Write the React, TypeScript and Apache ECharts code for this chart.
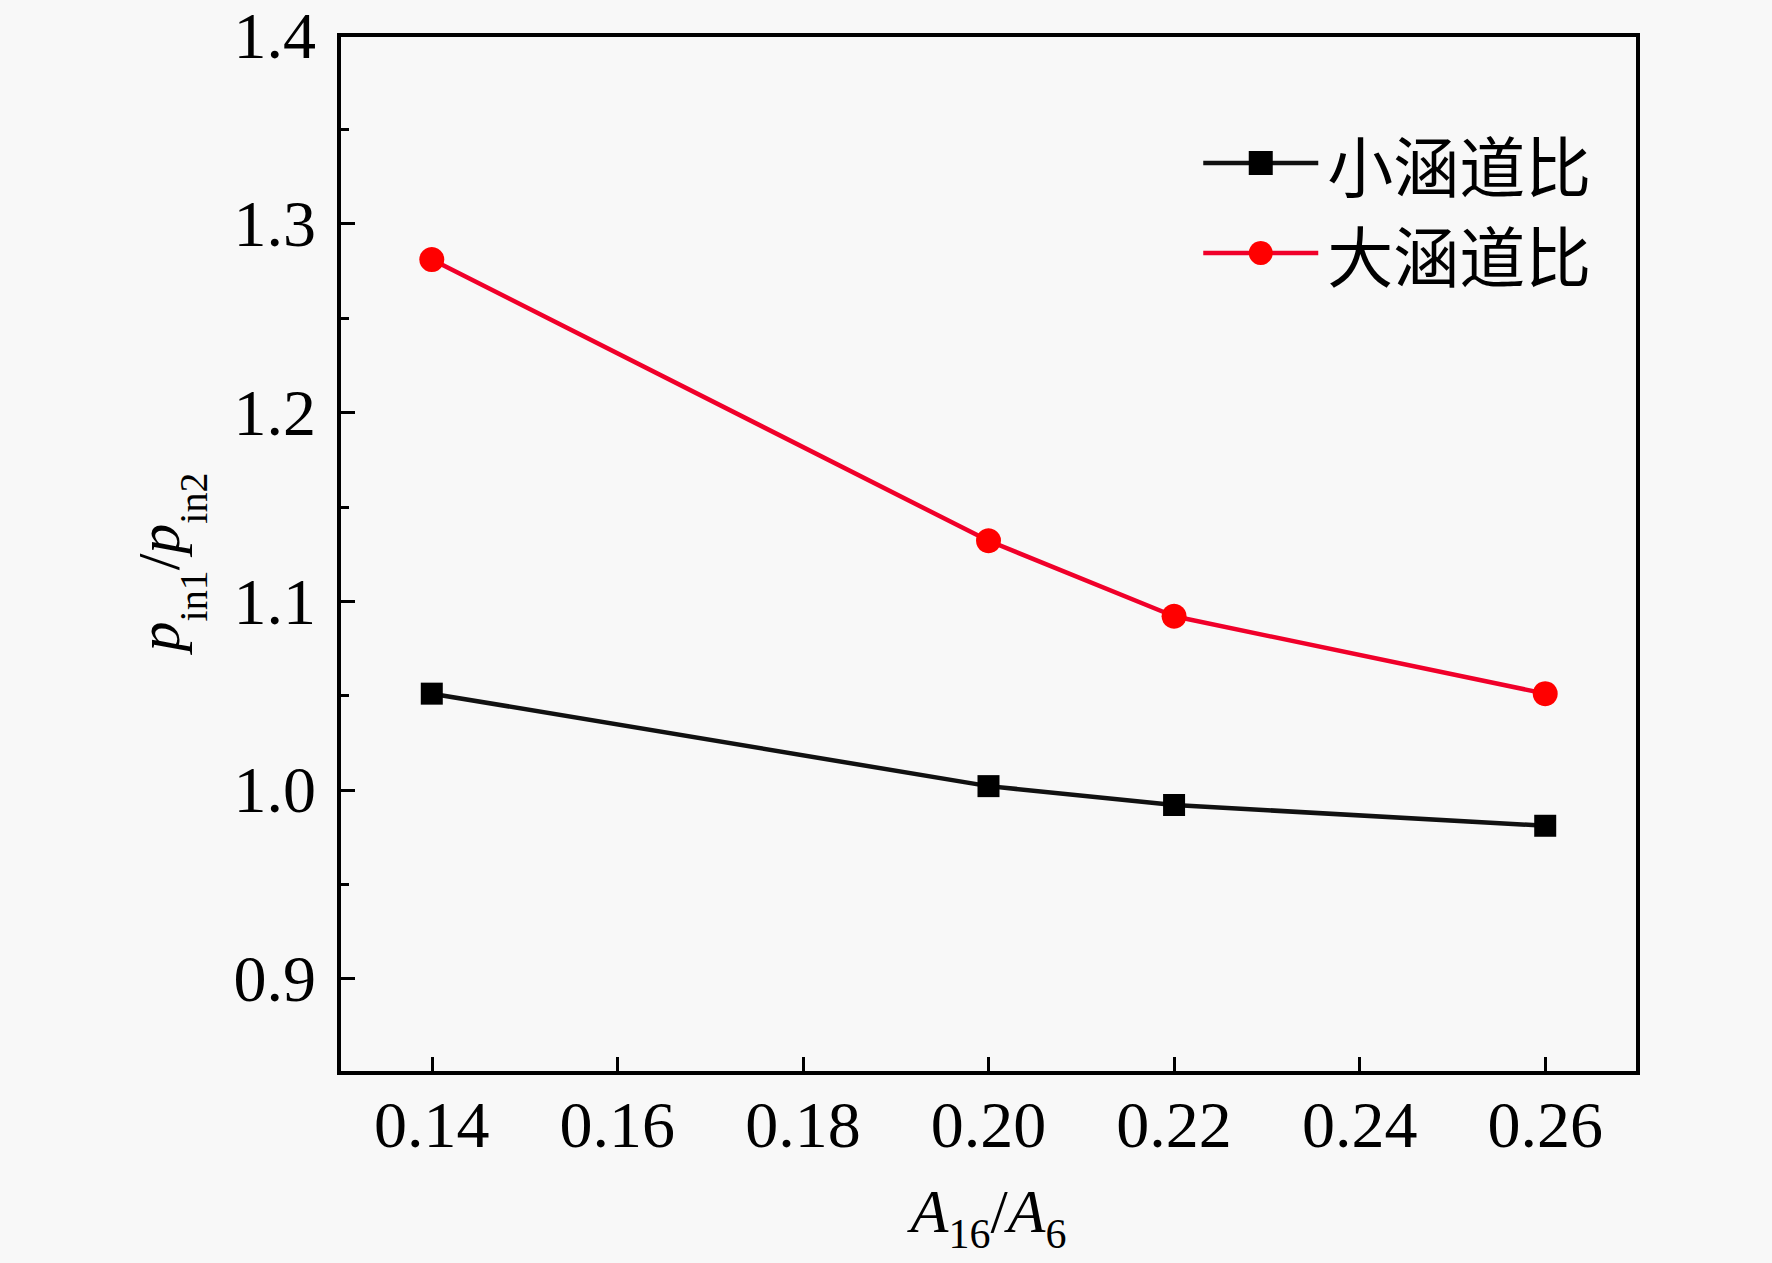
import React, { useEffect, useRef } from "react";
import * as echarts from "echarts";

const xValues = [0.14, 0.2, 0.22, 0.26];
const smallRatio = [1.051, 1.002, 0.992, 0.981];
const largeRatio = [1.281, 1.132, 1.092, 1.051];
const seriesNames = ["小涵道比", "大涵道比"];
const xTicks = [0.14, 0.16, 0.18, 0.2, 0.22, 0.24, 0.26];
const yMajorTicks = [0.9, 1.0, 1.1, 1.2, 1.3, 1.4];
const yMinorTicks = [0.95, 1.05, 1.15, 1.25, 1.35];

const SERIF = "'Liberation Serif', 'Times New Roman', serif";

function makeRich(main: number, sub: number, drop: number) {
  return {
    i: { fontFamily: SERIF, fontStyle: "italic", fontSize: main, color: "#000", lineHeight: 80, verticalAlign: "middle" },
    n: { fontFamily: SERIF, fontSize: main, color: "#000", lineHeight: 80, verticalAlign: "middle" },
    s: { fontFamily: SERIF, fontSize: sub, color: "#000", lineHeight: sub, verticalAlign: "bottom", padding: [0, 0, -drop, 0] },
  };
}

export default function App() {
  const ref = useRef<HTMLDivElement>(null);
  useEffect(() => {
    if (!ref.current) return;
    const chart = echarts.init(ref.current, null, { renderer: "svg" });
    const pair = (ys: number[]) => xValues.map((x, i) => [x, ys[i]]);
    chart.setOption({
      animation: false,
      backgroundColor: "#f8f8f8",
      grid: {
        left: 339,
        top: 35,
        width: 1299,
        height: 1038,
        outerBoundsMode: "none",
        containLabel: false,
        show: true,
        borderColor: "#000",
        borderWidth: 4,
        backgroundColor: "transparent",
      },
      legend: {
        left: 1196,
        top: 123,
        orient: "vertical",
        itemWidth: 115,
        itemHeight: 30,
        itemGap: 20,
        data: seriesNames,
        lineStyle: { width: 4.5 },
        textStyle: {
          fontFamily: "'Noto Sans CJK SC', sans-serif",
          fontSize: 66,
          lineHeight: 70,
          color: "#000",
          padding: [0, 0, 0, 4],
        },
      },
      xAxis: {
        type: "value",
        min: 0.13,
        max: 0.27,
        splitLine: { show: false },
        axisLine: { show: true, lineStyle: { color: "#000", width: 4 } },
        axisTick: {
          show: true,
          inside: true,
          length: 16,
          customValues: xTicks,
          lineStyle: { color: "#000", width: 3 },
        },
        axisLabel: {
          customValues: xTicks,
          formatter: (v: number) => v.toFixed(2),
          fontFamily: SERIF,
          fontSize: 66,
          color: "#000",
          margin: 18,
        },
        name: "{i|A}{s|16}{n|/}{i|A}{s|6}",
        nameLocation: "middle",
        nameGap: 98,
        nameTextStyle: { rich: makeRich(62, 42, 4) },
      },
      yAxis: [
        {
          type: "value",
          min: 0.85,
          max: 1.4,
          splitLine: { show: false },
          axisLine: { show: true, lineStyle: { color: "#000", width: 4 } },
          axisTick: {
            show: true,
            inside: true,
            length: 16,
            customValues: yMajorTicks,
            lineStyle: { color: "#000", width: 3 },
          },
          axisLabel: {
            customValues: yMajorTicks,
            formatter: (v: number) => v.toFixed(1),
            fontFamily: SERIF,
            fontSize: 66,
            color: "#000",
            margin: 23,
          },
          name: "{i|p}{s|in1}{n|/}{i|p}{s|in2}",
          nameLocation: "middle",
          nameRotate: 90,
          nameGap: 140,
          nameTextStyle: { rich: makeRich(60, 40, 14), padding: [0, 16, 0, 0] },
        },
        {
          type: "value",
          min: 0.85,
          max: 1.4,
          position: "left",
          splitLine: { show: false },
          axisLine: { show: false },
          axisLabel: { show: false },
          axisTick: {
            show: true,
            inside: true,
            length: 10,
            customValues: yMinorTicks,
            lineStyle: { color: "#000", width: 3 },
          },
        },
      ],
      series: [
        {
          name: seriesNames[0],
          type: "line",
          data: pair(smallRatio),
          symbol: "rect",
          symbolSize: 22,
          lineStyle: { color: "#111", width: 4.5 },
          itemStyle: { color: "#000" },
        },
        {
          name: seriesNames[1],
          type: "line",
          data: pair(largeRatio),
          symbol: "circle",
          symbolSize: 25,
          lineStyle: { color: "#f0002a", width: 4.5 },
          itemStyle: { color: "#ff0000" },
        },
      ],
    });
    return () => chart.dispose();
  }, []);
  return (
    <div
      ref={ref}
      style={{ position: "fixed", left: 0, top: 0, width: 1772, height: 1263 }}
    />
  );
}
